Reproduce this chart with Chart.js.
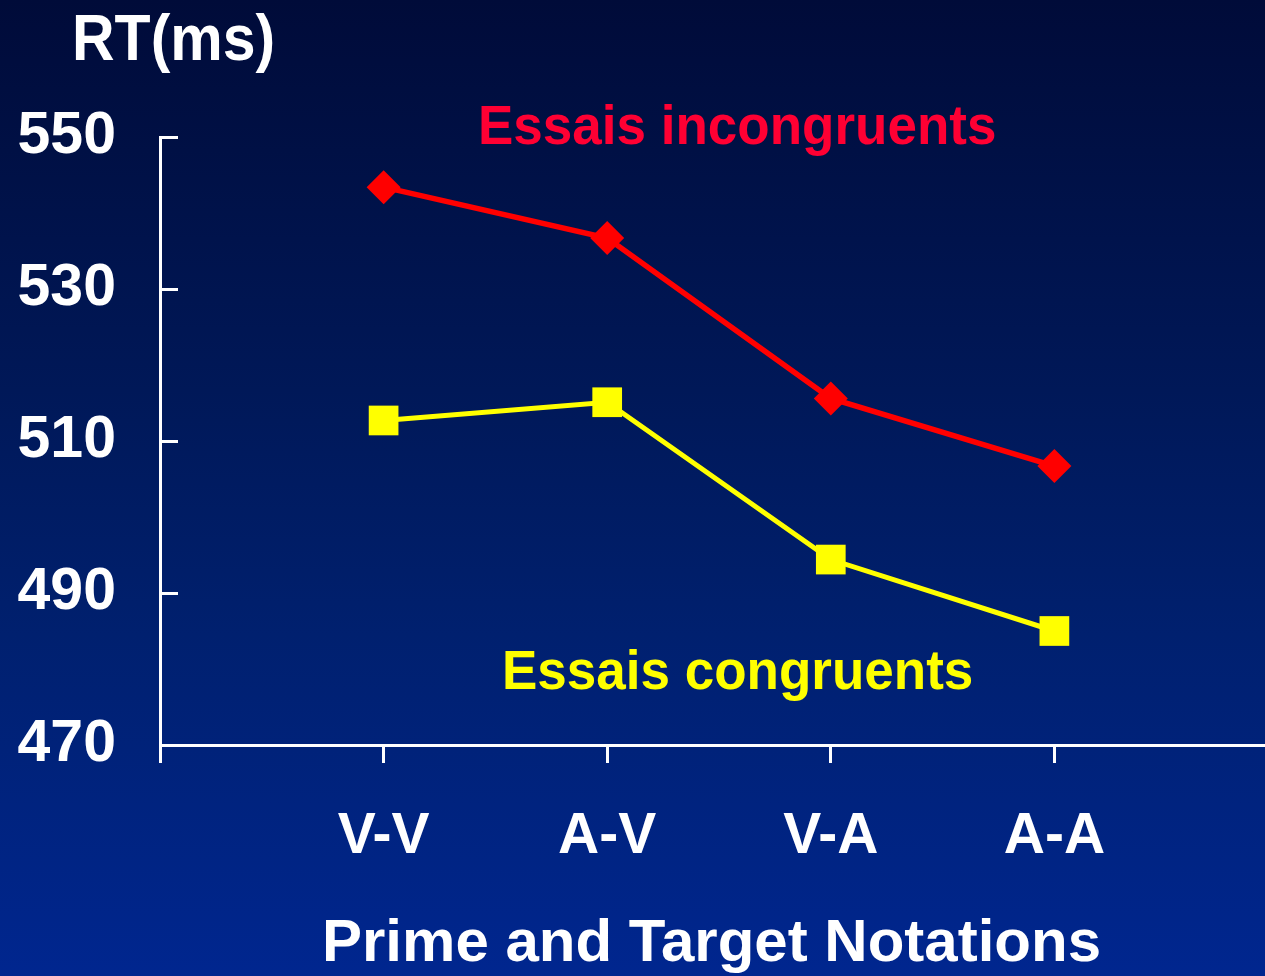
<!DOCTYPE html>
<html>
<head>
<meta charset="utf-8">
<title>RT by prime and target notation</title>
<script src="https://cdn.jsdelivr.net/npm/chart.js@4.4.0/dist/chart.umd.min.js"></script>
<style>
  html, body { margin: 0; padding: 0; overflow: hidden; }
  body {
    width: 1265px; height: 976px;
    background: linear-gradient(to bottom, #000b39 0%, #001858 40%, #00206f 65%, #00268f 100%);
  }
  #rt-chart { display: block; }
</style>
</head>
<body>
<!-- slightly wider than the window: the axis runs off the right edge like on the slide -->
<canvas id="rt-chart" width="1284" height="976"></canvas>
<script>
// data
const notations = ['V-V', 'A-V', 'V-A', 'A-A'];
const incongruent = [543.4, 536.7, 515.6, 506.7];
const congruent = [512.7, 515.1, 494.4, 485.0];
const yTicks = [470, 490, 510, 530, 550];

const toPoints = arr => arr.map((v, i) => ({ x: i + 1, y: v }));

Chart.defaults.font.family = '"Liberation Sans", Arial, sans-serif';
Chart.defaults.font.weight = 'bold';

// free text on the slide + the inward y ticks
const slideText = {
  id: 'slideText',
  afterDraw(chart) {
    const { ctx, chartArea, scales } = chart;
    ctx.save();
    // y ticks point into the plot
    ctx.strokeStyle = '#fff';
    ctx.lineWidth = 3;
    yTicks.forEach(v => {
      const y = Math.round(scales.y.getPixelForValue(v)) + 0.5;
      ctx.beginPath();
      ctx.moveTo(chartArea.left, y);
      ctx.lineTo(chartArea.left + 18, y);
      ctx.stroke();
    });

    const label = (text, x, y, size, color, stretch) => {
      ctx.save();
      ctx.translate(x, y);
      ctx.scale(1, stretch);
      ctx.font = `bold ${size}px "Liberation Sans", Arial, sans-serif`;
      ctx.fillStyle = color;
      ctx.textAlign = 'left';
      ctx.textBaseline = 'alphabetic';
      ctx.fillText(text, 0, 0);
      ctx.restore();
    };
    label('RT(ms)', 72, 60, 59, '#ffffff', 1.11);
    label('Essais incongruents', 478, 144, 53, '#ff0033', 1.04);
    label('Essais congruents', 502, 689, 53, '#ffff00', 1.04);
    ctx.restore();
  }
};

const ctx = document.getElementById('rt-chart').getContext('2d');
const rtChart = new Chart(ctx, {
  type: 'line',
  data: {
    datasets: [{
      label: 'Essais incongruents',
      data: toPoints(incongruent),
      borderColor: '#ff0000',
      backgroundColor: '#ff0000',
      borderWidth: 5.5,
      pointStyle: 'rectRot',
      pointRadius: 17,
      pointHoverRadius: 17,
      pointBorderWidth: 0,
    }, {
      label: 'Essais congruents',
      data: toPoints(congruent),
      borderColor: '#ffff00',
      backgroundColor: '#ffff00',
      borderWidth: 5,
      pointStyle: 'rect',
      pointRadius: 21,
      pointHoverRadius: 21,
      pointBorderWidth: 0,
    }],
  },
  options: {
    responsive: false,
    animation: false,
    layout: { padding: { left: 18, top: 137, right: 0, bottom: 0 } },
    plugins: {
      legend: { display: false },
      tooltip: { enabled: false },
    },
    scales: {
      x: {
        type: 'linear',
        min: 0,
        max: 4.933,
        afterBuildTicks: s => { s.ticks = [0, 1, 2, 3, 4].map(v => ({ value: v })); },
        afterFit: s => { s.height = 231; s.paddingLeft = 0; s.paddingRight = 0; },
        border: { color: '#fff', width: 3 },
        grid: { drawOnChartArea: false, drawTicks: true, tickLength: 18, color: '#fff', lineWidth: 3 },
        ticks: {
          color: '#fff',
          font: { size: 57, weight: 'bold' },
          padding: 40,
          maxRotation: 0,
          autoSkip: false,
          callback: v => notations[v - 1] || '',
        },
        title: {
          display: true,
          text: 'Prime and Target Notations',
          color: '#fff',
          font: { size: 60, weight: 'bold', lineHeight: 1 },
          padding: { top: 0, bottom: 2 },
        },
      },
      y: {
        min: 470,
        max: 550,
        afterBuildTicks: s => { s.ticks = yTicks.map(v => ({ value: v })); },
        afterFit: s => { s.width = 142; },
        border: { color: '#fff', width: 3 },
        grid: { drawOnChartArea: false, drawTicks: false },
        ticks: { color: '#fff', font: { size: 59, weight: 'bold' }, padding: 44 },
      },
    },
  },
  plugins: [slideText],
});
</script>
</body>
</html>
